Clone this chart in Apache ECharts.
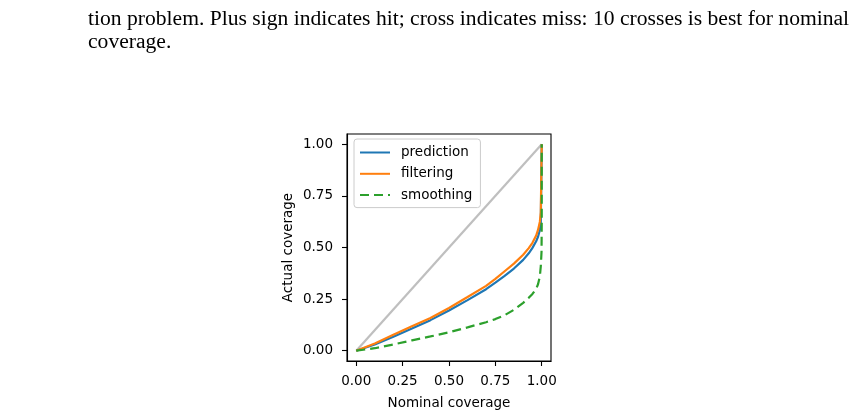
<!DOCTYPE html>
<html>
<head>
<meta charset="utf-8">
<script src="https://cdn.jsdelivr.net/npm/echarts@6/dist/echarts.min.js"></script>
<style>
  html, body { margin: 0; padding: 0; background: #fff; }
  #chart { width: 857px; height: 417px; }
</style>
</head>
<body>
<div id="chart"></div>
<script>
// caption text shown above the figure
const captionLines = [
  'tion problem. Plus sign indicates hit; cross indicates miss: 10 crosses is best for nominal',
  'coverage.'
];

const tickValues = [0, 0.25, 0.5, 0.75, 1.0];

// nominal coverage levels
const nominal = [0, 0.1, 0.2, 0.3, 0.4, 0.5, 0.6, 0.7, 0.75, 0.8, 0.85, 0.9, 0.93, 0.95, 0.97, 0.98, 0.99, 0.995, 1.0];

// prediction
const predY = [0, 0.03, 0.068, 0.107, 0.148, 0.195, 0.245, 0.298, 0.33, 0.363, 0.398, 0.44, 0.472, 0.498, 0.53, 0.552, 0.585, 0.62, 1.0];

// filtering
const filtY = [0, 0.035, 0.077, 0.118, 0.158, 0.207, 0.26, 0.314, 0.348, 0.385, 0.422, 0.465, 0.497, 0.523, 0.558, 0.585, 0.625, 0.67, 1.0];

// smoothing
const smoothX = [0, 0.1, 0.2, 0.3, 0.4, 0.5, 0.6, 0.7, 0.75, 0.8, 0.85, 0.9, 0.93, 0.95, 0.97, 0.98, 0.99, 0.995, 0.999, 1.0, 1.0];
const smoothY = [0, 0.012, 0.03, 0.05, 0.069, 0.089, 0.113, 0.138, 0.153, 0.172, 0.198, 0.232, 0.256, 0.275, 0.3, 0.322, 0.36, 0.41, 0.48, 0.62, 1.0];

// ideal calibration line
const idealX = [0, 1];
const idealY = [0, 1];

function zip(xs, ys) {
  return xs.map((x, i) => [x, ys[i]]);
}

const chart = echarts.init(document.getElementById('chart'), null, { renderer: 'canvas' });

const axisCommon = {
  type: 'value',
  min: -0.05,
  max: 1.05,
  splitLine: { show: false },
  axisLine: { show: true, onZero: false, lineStyle: { color: '#000', width: 1.1 } },
  axisTick: { show: true, customValues: tickValues, length: 5, lineStyle: { color: '#000', width: 1.1 } },
  axisLabel: {
    customValues: tickValues,
    formatter: v => v.toFixed(2),
    color: '#000',
    fontFamily: 'DejaVu Sans',
    fontSize: 13.5
  },
  nameLocation: 'middle',
  nameTextStyle: { color: '#000', fontFamily: 'DejaVu Sans', fontSize: 13.5 }
};

const lineCommon = { type: 'line', symbol: 'none' };

const option = {
  animation: false,
  backgroundColor: '#fff',
  graphic: captionLines.map((t, i) => ({
    type: 'text',
    x: 88,
    y: 8 + i * 23,
    style: { text: t, font: '21.6px "Liberation Serif"', fill: '#000' }
  })),
  grid: {
    left: 347, top: 134, width: 204, height: 227,
    show: true, borderColor: '#000', borderWidth: 1.1, backgroundColor: '#fff'
  },
  xAxis: Object.assign({}, axisCommon, {
    name: 'Nominal coverage',
    nameGap: 35,
    axisLabel: Object.assign({}, axisCommon.axisLabel, { margin: 13 })
  }),
  yAxis: Object.assign({}, axisCommon, {
    name: 'Actual coverage',
    nameGap: 52,
    axisLabel: Object.assign({}, axisCommon.axisLabel, { margin: 14 })
  }),
  legend: {
    orient: 'vertical',
    left: 354,
    top: 139,
    data: ['prediction', 'filtering', 'smoothing'],
    itemWidth: 30,
    itemHeight: 14,
    itemGap: 7.3,
    padding: [6.5, 8, 5.5, 5],
    itemStyle: { opacity: 0 },
    backgroundColor: '#fff',
    borderColor: '#cccccc',
    borderWidth: 1,
    borderRadius: 3,
    textStyle: { color: '#000', fontFamily: 'DejaVu Sans', fontSize: 13.5, padding: [0, 0, 0, 6] }
  },
  series: [
    Object.assign({}, lineCommon, {
      name: 'ideal', data: zip(idealX, idealY),
      lineStyle: { color: '#bfbfbf', width: 2.2 }, silent: true
    }),
    Object.assign({}, lineCommon, {
      name: 'prediction', data: zip(nominal, predY),
      color: '#1f77b4', lineStyle: { color: '#1f77b4', width: 2.2 }
    }),
    Object.assign({}, lineCommon, {
      name: 'filtering', data: zip(nominal, filtY),
      color: '#ff7f0e', lineStyle: { color: '#ff7f0e', width: 2.2 }
    }),
    Object.assign({}, lineCommon, {
      name: 'smoothing', data: zip(smoothX, smoothY),
      color: '#2ca02c', lineStyle: { color: '#2ca02c', width: 2.2, type: [9, 5] }
    })
  ]
};

chart.setOption(option);
</script>
</body>
</html>
